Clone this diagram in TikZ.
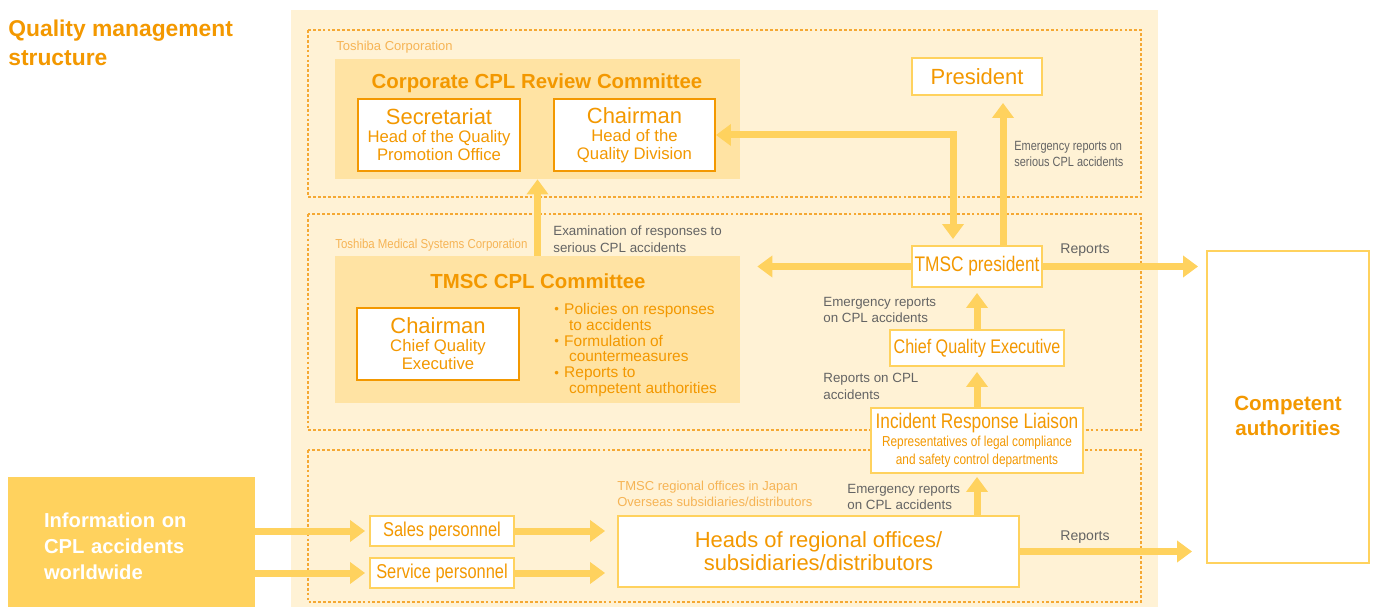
\documentclass[tikz,border=0pt]{standalone}
\usepackage{fontspec}
\setmainfont{Liberation Sans}
\newfontfamily\narrowfont[FakeStretch=0.82]{Liberation Sans}
\newfontfamily\slimfont[FakeStretch=0.88]{Liberation Sans}
\usetikzlibrary{arrows.meta,positioning}
\definecolor{qorange}{RGB}{243,152,0}
\definecolor{qyellow}{RGB}{255,210,94}
\definecolor{qcream}{RGB}{255,242,213}
\definecolor{qpeach}{RGB}{255,227,163}
\definecolor{qdash}{RGB}{245,168,50}
\definecolor{qlight}{RGB}{246,180,85}
\definecolor{qgray}{RGB}{100,100,100}
\newcommand{\bighead}{\fontsize{12.5}{14}\selectfont}
\newcommand{\qbullet}{{\fontsize{7.5}{7.5}\selectfont\raisebox{0.4pt}{•}}\hspace{3pt}}

\begin{document}
\begin{tikzpicture}[x=0.02cm,y=-0.02cm]
             \tikzstyle{orgbox} = [draw=qorange,line width=1.1pt,fill=white,inner sep=0pt,align=center,text=qorange,font=\fontsize{9.5}{10.3}\selectfont]
             \tikzstyle{ylwbox} = [draw=qyellow,line width=1.1pt,fill=white,inner sep=0pt,align=center,text=qorange]
             \tikzstyle{committee} = [fill=qpeach,inner sep=0pt]
             \tikzstyle{frame} = [draw=qdash,line width=0.7pt,dash pattern=on 1.6pt off 1.2pt]
             \tikzstyle{flow} = [draw=qyellow,line width=0.14cm,-{Triangle[width=0.42cm,length=0.3cm]}]
             \tikzstyle{note} = [text=qgray,font=\fontsize{7.6}{9.6}\selectfont,align=left,inner sep=0pt,anchor=west]
             \tikzstyle{orglabel} = [text=qlight,font=\fontsize{7.4}{9.2}\selectfont,align=left,inner sep=0pt,anchor=west]
		\useasboundingbox (0,0) rectangle (1375,607);
		% Background
		\fill[qcream] (291,10) rectangle (1158,607);
		\draw[frame] (308,30) rectangle (1141,197);
		\draw[frame] (308,214) rectangle (1141,430);
		\draw[frame] (308,450) rectangle (1141,602);
		% Title
		\node[anchor=north west,align=left,inner sep=0pt,text=qorange,font=\bfseries\fontsize{13}{16.4}\selectfont] (title) at (8,20) {Quality management\\structure};
		% Toshiba Corporation
		\node[orglabel] (toshiba) at (336,47) {Toshiba Corporation};
		\node[committee,minimum width=8.1cm,minimum height=2.4cm] (corpcom) at (537.5,119) {};
		\node[text=qorange,font=\bfseries\fontsize{11.6}{14}\selectfont] (corptitle) at (537,83) {Corporate CPL Review Committee};
		\node[orgbox,minimum width=3.24cm,minimum height=1.44cm] (secr) at (439,135) {\bighead Secretariat\\Head of the Quality\\Promotion Office};
		\node[orgbox,minimum width=3.22cm,minimum height=1.44cm] (corpchair) at (634.5,135) {\bighead Chairman\\Head of the\\Quality Division};
		\node[ylwbox,minimum width=2.6cm,minimum height=0.74cm,font=\bighead] (president) at (977,76.5) {President};
		% Toshiba Medical Systems Corporation
		\node[orglabel,font=\slimfont\fontsize{7.4}{9.2}\selectfont] (tmsc) at (335,245) {Toshiba Medical Systems Corporation};
		\node[committee,minimum width=8.1cm,minimum height=2.94cm] (tmsccom) at (537.5,329.5) {};
		\node[text=qorange,font=\bfseries\fontsize{11.6}{14}\selectfont] (tmsctitle) at (538,281) {TMSC CPL Committee};
		\node[orgbox,minimum width=3.24cm,minimum height=1.44cm] (tmscchair) at (438,344) {\bighead Chairman\\Chief Quality\\Executive};
		\node[anchor=west,align=left,inner sep=0pt,text=qorange,font=\fontsize{8.8}{9.1}\selectfont] (duties) at (554,350) {\qbullet Policies on responses\\\hspace*{0.95em}to accidents\\\qbullet Formulation of\\\hspace*{0.95em}countermeasures\\\qbullet Reports to\\\hspace*{0.95em}competent authorities};
		\node[ylwbox,minimum width=2.6cm,minimum height=0.82cm,font=\narrowfont\fontsize{12}{14}\selectfont] (tmscpres) at (977,266.5) {TMSC president};
		\node[ylwbox,minimum width=3.48cm,minimum height=0.72cm,font=\narrowfont\fontsize{11.2}{13}\selectfont] (cqe) at (977,348) {Chief Quality Executive};
		\node[ylwbox,minimum width=4.24cm,minimum height=1.3cm,font=\narrowfont\fontsize{8.2}{10.2}\selectfont] (liaison) at (977,440.5) {\fontsize{12}{13}\selectfont Incident Response Liaison\\Representatives of legal compliance\\and safety control departments};
		% Regional offices
		\node[orglabel] (regional) at (617,494) {TMSC regional offices in Japan\\Overseas subsidiaries/distributors};
		\node[ylwbox,minimum width=8.02cm,minimum height=1.42cm,font=\fontsize{12.5}{13.2}\selectfont] (heads) at (818.5,551.5) {Heads of regional offices/\\subsidiaries/distributors};
		\node[ylwbox,minimum width=2.88cm,minimum height=0.6cm,font=\narrowfont\fontsize{11.4}{13}\selectfont] (sales) at (442,531) {Sales personnel};
		\node[ylwbox,minimum width=2.88cm,minimum height=0.6cm,font=\narrowfont\fontsize{11.4}{13}\selectfont] (service) at (442,573) {Service personnel};
		% Outside
		\node[fill=qyellow,minimum width=4.94cm,minimum height=2.6cm,text width=3.5cm,inner xsep=0.72cm,inner ysep=0pt,align=left,text=white,font=\bfseries\fontsize{11.5}{14.7}\selectfont] (info) at (131.5,542) {\rule{0pt}{13pt}Information on\\CPL accidents\\worldwide};
		\node[ylwbox,minimum width=3.24cm,minimum height=6.24cm,font=\bfseries\fontsize{11.7}{14.2}\selectfont] (competent) at (1288,407) {\rule{0pt}{18.5pt}Competent\\authorities};
		% Arrows
		\draw[flow,{Triangle[width=0.42cm,length=0.3cm]}-{Triangle[width=0.42cm,length=0.3cm]}] (corpchair.east) -| ([xshift=-0.48cm,yshift=0.12cm]tmscpres.north);
		\draw[flow,shorten >=0.14cm] ([xshift=0.52cm]tmscpres.north) -- ([xshift=0.52cm]president.south);
		\draw[flow] (tmsccom.north) -- (corpcom.south);
		\draw[flow,shorten >=0.34cm] (tmscpres.west) -- (tmscpres.west -| tmsccom.east);
		\draw[flow,shorten >=0.16cm] (tmscpres.east) -- (tmscpres.east -| competent.west);
		\draw[flow,shorten >=0.1cm] (cqe.north) -- (tmscpres.south);
		\draw[flow,shorten >=0.1cm] (liaison.north) -- (cqe.south);
		\draw[flow,shorten >=0.06cm] (heads.north -| liaison.south) -- (liaison.south);
		\draw[flow,shorten >=0.28cm] (heads.east) -- (heads.east -| competent.west);
		\draw[flow,shorten >=0.24cm] (sales.east) -- (sales.east -| heads.west);
		\draw[flow,shorten >=0.24cm] (service.east) -- (service.east -| heads.west);
		\draw[flow,shorten >=0.08cm] (info.east |- sales.west) -- (sales.west);
		\draw[flow,shorten >=0.08cm] (info.east |- service.west) -- (service.west);
		% Labels
		\node[note] (exam) at (553,239) {Examination of responses to\\serious CPL accidents};
		\node[note,font=\narrowfont\fontsize{7.6}{9.6}\selectfont] (seriousrep) at (1014,154) {Emergency reports on\\serious CPL accidents};
		\node[note,anchor=center,font=\fontsize{8}{9.6}\selectfont] (rep1) at (1085,250) {Reports};
		\node[note] (emerg1) at (823,310) {Emergency reports\\on CPL accidents};
		\node[note] (cplrep) at (823,386) {Reports on CPL\\accidents};
		\node[note] (emerg2) at (847,497) {Emergency reports\\on CPL accidents};
		\node[note,anchor=center,font=\fontsize{8}{9.6}\selectfont] (rep2) at (1085,537) {Reports};
\end{tikzpicture}
\end{document}
